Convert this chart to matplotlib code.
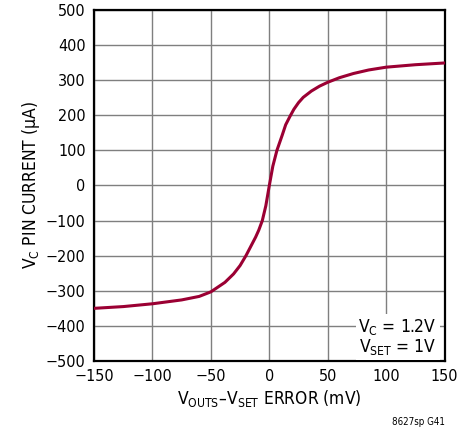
import numpy as np
import matplotlib
matplotlib.use("Agg")
import matplotlib.pyplot as plt

plt.rcParams['font.family'] = ['DejaVu Sans']
plt.rcParams['font.stretch'] = 'condensed'
plt.rcParams['mathtext.fontset'] = 'custom'
plt.rcParams['mathtext.rm'] = 'DejaVu Sans:stretch=condensed'

# values
error_mv = [-150, -125, -100, -75, -60, -50, -38, -30.6, -25, -20, -11.7, -9, -6, -3, 0,
            3, 6.5, 11, 14, 17.7, 21, 25, 29, 36, 43, 50, 60, 72, 85, 100, 125, 150]
vc_current = [-350, -345, -337, -326, -316, -303, -276, -252, -228, -200, -147, -127, -100, -58, 0,
              55, 100, 143, 173, 197, 217, 236, 251, 269, 283, 294, 307, 319, 329, 337, 344, 349]

xticks = [-150, -100, -50, 0, 50, 100, 150]
yticks = [-500, -400, -300, -200, -100, 0, 100, 200, 300, 400, 500]

fig = plt.figure(figsize=(4.75, 4.33), dpi=100)
ax = fig.add_axes([0.198, 0.1663, 0.738, 0.8107])

ax.plot(error_mv, vc_current, color='#9b0033', lw=2.2, zorder=3)

ax.set_xlim(-150, 150)
ax.set_ylim(-500, 500)
ax.set_xticks(xticks)
ax.set_yticks(yticks)
ax.set_xticklabels(['\u2212150', '\u2212100', '\u221250', '0', '50', '100', '150'])
ax.set_yticklabels([('\u2212' + str(-v)) if v < 0 else str(v) for v in yticks])
ax.tick_params(length=0, labelsize=11.5, pad=6)
ax.grid(True, color='#7f7f7f', lw=1.0)
for s in ax.spines.values():
    s.set_linewidth(1.6)

ax.set_xlabel('V$_{\\mathregular{OUTS}}$\u2013V$_{\\mathregular{SET}}$ ERROR (mV)',
              fontsize=12.5, labelpad=3)
ax.set_ylabel('V$_{\\mathregular{C}}$ PIN CURRENT (\u03bcA)', fontsize=12.5, labelpad=3)

ax.text(0.978, 0.01, 'V$_{\\mathregular{C}}$ = 1.2V\nV$_{\\mathregular{SET}}$ = 1V',
        transform=ax.transAxes, ha='right', va='bottom', fontsize=12.5,
        linespacing=1.05, zorder=4,
        bbox=dict(facecolor='white', edgecolor='none', pad=2))

fig.text(0.937, 0.013, '8627sp G41', ha='right', va='bottom', fontsize=7)

fig.savefig('out.png', dpi=100)
